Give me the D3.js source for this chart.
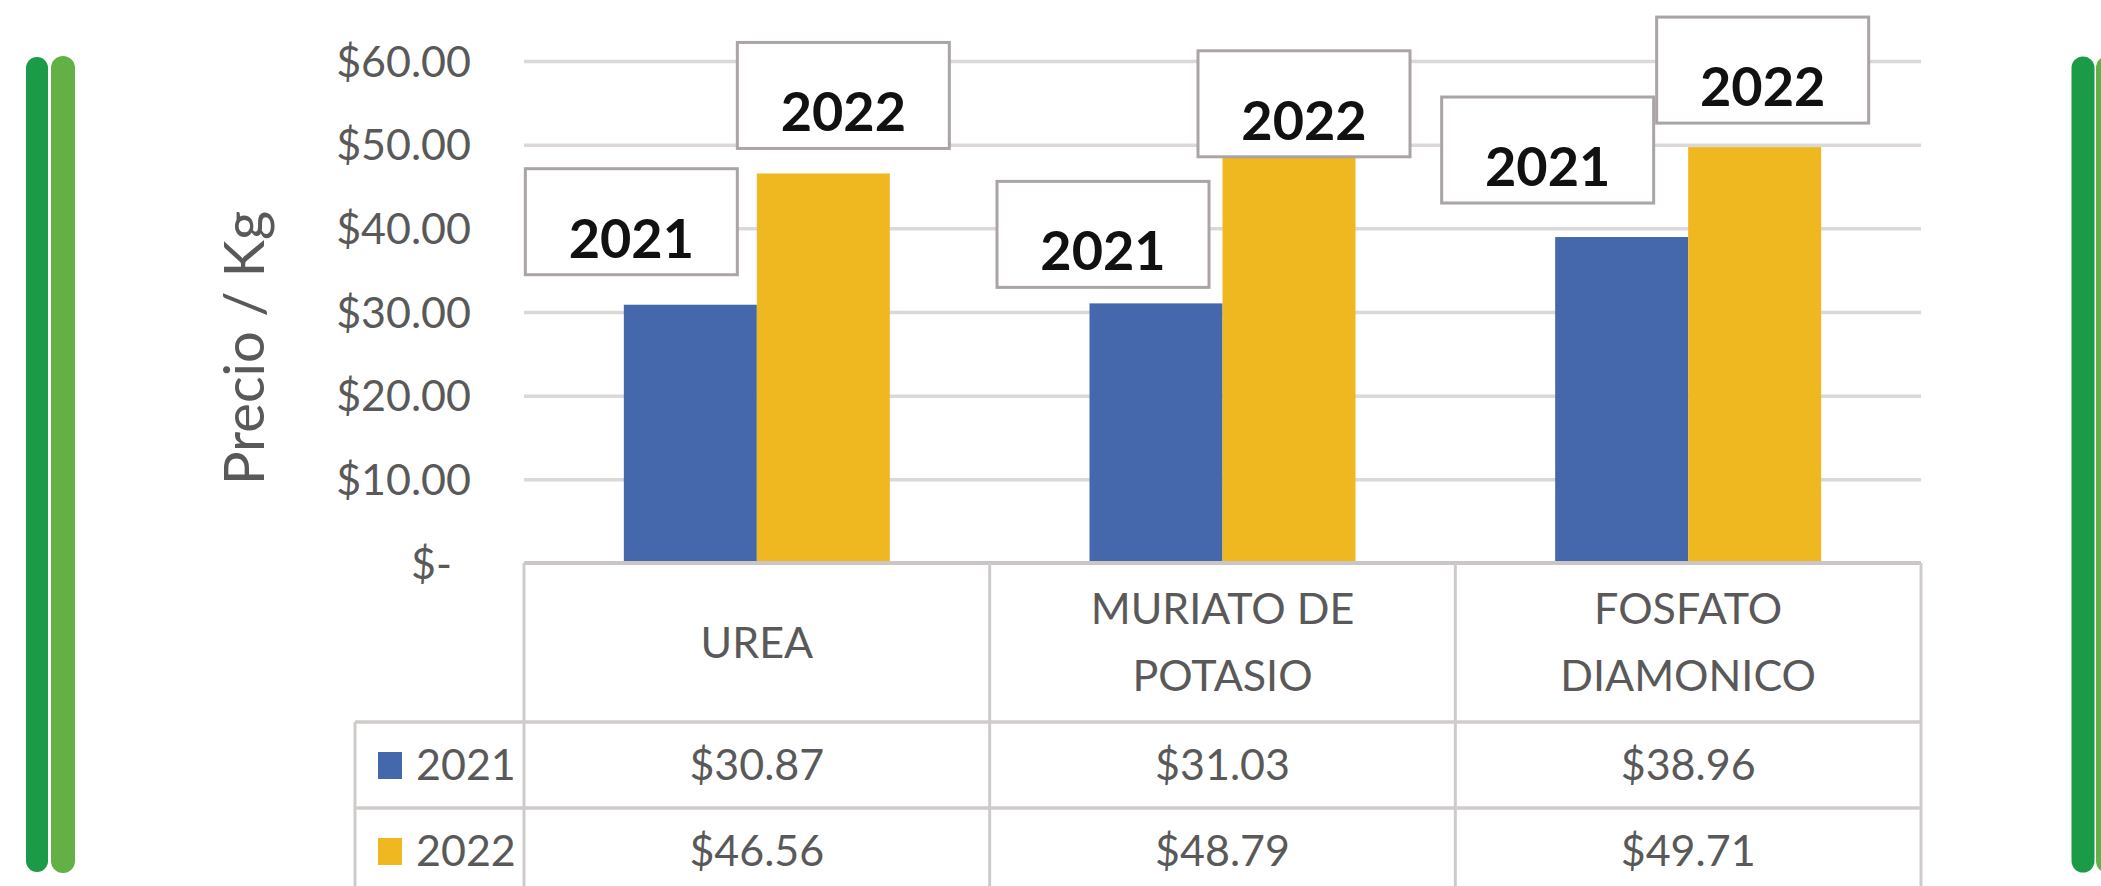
<!DOCTYPE html>
<html>
<head>
<meta charset="utf-8">
<script src="https://cdn.jsdelivr.net/npm/d3@7"></script>
<style>
  body { margin: 0; background: #fff; }
  svg { display: block; }
  text { font-family: Lato, "Open Sans", sans-serif; }
</style>
</head>
<body>
<div id="chart"></div>
<script>
// chart data
var categories = ["UREA", "MURIATO DE POTASIO", "FOSFATO DIAMONICO"];
var categoryLines = [["UREA"], ["MURIATO DE", "POTASIO"], ["FOSFATO", "DIAMONICO"]];
var seriesNames = ["2021", "2022"];
var values2021 = [30.87, 31.03, 38.96];
var values2022 = [46.56, 48.79, 49.71];
var yTicks = [0, 10, 20, 30, 40, 50, 60];

var colors = { "2021": "#4468ab", "2022": "#f0b820" };

// layout
var w = 2101, h = 886;
var plotLeft = 524, plotRight = 1921;
var plotTop = 61, plotBottom = 563;
var headerBottom = 722, rowH = 86;
var legendLeft = 355;
var textGray = "#595959";
var lineGray = "#d0cbcb";
var fontSize = 43;

// hand placed series labels: [dx from bar centre, gap above bar top]
var labelNudge = {
  "2021": [[-59, 30], [-53, 16], [-74, 34]],
  "2022": [[20, 25], [15, -2], [8, 24]]
};

var svg = d3.select("#chart").append("svg")
  .attr("width", w)
  .attr("height", h);

// decorative green bars at the sides
var greens = [
  { x: 37, width: 22, color: "#1b9a47" },
  { x: 63, width: 24, color: "#62b046" },
  { x: 2083, width: 23, color: "#1b9a47" },
  { x: 2108, width: 24, color: "#62b046" }
];
svg.selectAll("line.deco")
  .data(greens)
  .enter()
  .append("line")
  .attr("class", "deco")
  .attr("x1", function(d) { return d.x; })
  .attr("x2", function(d) { return d.x; })
  .attr("y1", 57 + 11)
  .attr("y2", 872 - 11)
  .attr("stroke", function(d) { return d.color; })
  .attr("stroke-width", function(d) { return d.width; })
  .attr("stroke-linecap", "round");

// scales
var y = d3.scaleLinear().domain([0, 60]).range([plotBottom, plotTop]);
var x0 = d3.scaleBand().domain(categories).range([plotLeft, plotRight]).padding(0);
var groupW = 266;
var x1 = d3.scaleBand().domain(seriesNames).range([0, groupW]).padding(0);

// gridlines
svg.append("g")
  .attr("transform", "translate(" + plotLeft + ",0)")
  .call(d3.axisLeft(y).tickValues(yTicks.filter(function(d) { return d > 0; }))
    .tickSize(-(plotRight - plotLeft)).tickFormat(""))
  .call(function(g) {
    g.select(".domain").remove();
    g.selectAll("line").attr("stroke", "#dcd8d8").attr("stroke-width", 3.5);
  });

// y axis labels
svg.append("g")
  .attr("transform", "translate(471,0)")
  .call(d3.axisLeft(y).tickValues(yTicks).tickSize(0).tickPadding(0)
    .tickFormat(function(d) { return d === 0 ? "$-" : "$" + d.toFixed(2); }))
  .call(function(g) {
    g.select(".domain").remove();
    g.selectAll("text")
      .attr("font-family", "Lato, sans-serif")
      .attr("font-size", fontSize)
      .attr("fill", textGray)
      .attr("dy", "0.35em")
      .attr("x", function(d) { return d === 0 ? -19 : 0; });
  });

// axis title
svg.append("text")
  .attr("transform", "translate(264," + ((plotTop + plotBottom) / 2 + 36) + ") rotate(-90)")
  .attr("text-anchor", "middle")
  .attr("font-size", 56)
  .attr("fill", textGray)
  .text("Precio / Kg");

// bars
var seriesData = seriesNames.map(function(s, i) {
  var vals = i === 0 ? values2021 : values2022;
  return categories.map(function(c, j) { return { series: s, cat: c, idx: j, value: vals[j] }; });
});
var flat = d3.merge(seriesData);

function barX(d) {
  return x0(d.cat) + (x0.bandwidth() - groupW) / 2 + x1(d.series);
}

svg.selectAll("rect.bar")
  .data(flat)
  .enter()
  .append("rect")
  .attr("class", "bar")
  .attr("x", barX)
  .attr("y", function(d) { return y(d.value); })
  .attr("width", x1.bandwidth())
  .attr("height", function(d) { return y(0) - y(d.value); })
  .attr("fill", function(d) { return colors[d.series]; });

// series name labels in boxes
var boxW = 212, boxH = 106;
var labels = svg.selectAll("g.lbl")
  .data(flat)
  .enter()
  .append("g")
  .attr("class", "lbl")
  .attr("transform", function(d) {
    var n = labelNudge[d.series][d.idx];
    var cx = barX(d) + x1.bandwidth() / 2 + n[0];
    var bottom = y(d.value) - n[1];
    return "translate(" + (cx - boxW / 2) + "," + (bottom - boxH) + ")";
  });
labels.append("rect")
  .attr("width", boxW)
  .attr("height", boxH)
  .attr("fill", "#fff")
  .attr("stroke", "#aaa4a4")
  .attr("stroke-width", 3);
labels.append("text")
  .attr("x", boxW / 2)
  .attr("y", boxH - 17)
  .attr("text-anchor", "middle")
  .attr("font-size", 54)
  .attr("font-weight", "bold")
  .attr("fill", "#111")
  .text(function(d) { return d.series; });

// data table under the axis
var table = svg.append("g");
var rowTops = [headerBottom, headerBottom + rowH];
var tableBottom = headerBottom + 2 * rowH;

// horizontal rules
table.append("line")
  .attr("x1", plotLeft).attr("x2", plotRight)
  .attr("y1", plotBottom).attr("y2", plotBottom)
  .attr("stroke", "#cbc6c6").attr("stroke-width", 4);
[headerBottom, headerBottom + rowH, tableBottom].forEach(function(yy) {
  table.append("line")
    .attr("x1", legendLeft).attr("x2", plotRight)
    .attr("y1", yy).attr("y2", yy)
    .attr("stroke", lineGray).attr("stroke-width", 3.5);
});
// vertical rules
var vx = categories.map(function(c) { return x0(c); }).concat([plotRight]);
vx.forEach(function(xx) {
  table.append("line")
    .attr("x1", xx).attr("x2", xx)
    .attr("y1", plotBottom).attr("y2", tableBottom)
    .attr("stroke", lineGray).attr("stroke-width", 3);
});
table.append("line")
  .attr("x1", legendLeft).attr("x2", legendLeft)
  .attr("y1", headerBottom).attr("y2", tableBottom)
  .attr("stroke", lineGray).attr("stroke-width", 3);

// header cells
categories.forEach(function(c, i) {
  var lines = categoryLines[i];
  var cy = (plotBottom + headerBottom) / 2;
  lines.forEach(function(t, k) {
    table.append("text")
      .attr("x", x0(c) + x0.bandwidth() / 2)
      .attr("y", cy + (k - (lines.length - 1) / 2) * 67)
      .attr("dy", "0.35em")
      .attr("text-anchor", "middle")
      .attr("font-size", fontSize)
      .attr("fill", textGray)
      .text(t);
  });
});

// legend + value rows
seriesData.forEach(function(row, i) {
  var cy = rowTops[i] + rowH / 2;
  table.append("rect")
    .attr("x", 378).attr("y", cy - 13)
    .attr("width", 24).attr("height", 27)
    .attr("fill", colors[seriesNames[i]]);
  table.append("text")
    .attr("x", 416).attr("y", cy)
    .attr("dy", "0.35em")
    .attr("font-size", fontSize)
    .attr("fill", textGray)
    .text(seriesNames[i]);
  row.forEach(function(d) {
    table.append("text")
      .attr("x", x0(d.cat) + x0.bandwidth() / 2)
      .attr("y", cy)
      .attr("dy", "0.35em")
      .attr("text-anchor", "middle")
      .attr("font-size", fontSize)
      .attr("fill", textGray)
      .text("$" + d.value.toFixed(2));
  });
});
</script>
</body>
</html>
